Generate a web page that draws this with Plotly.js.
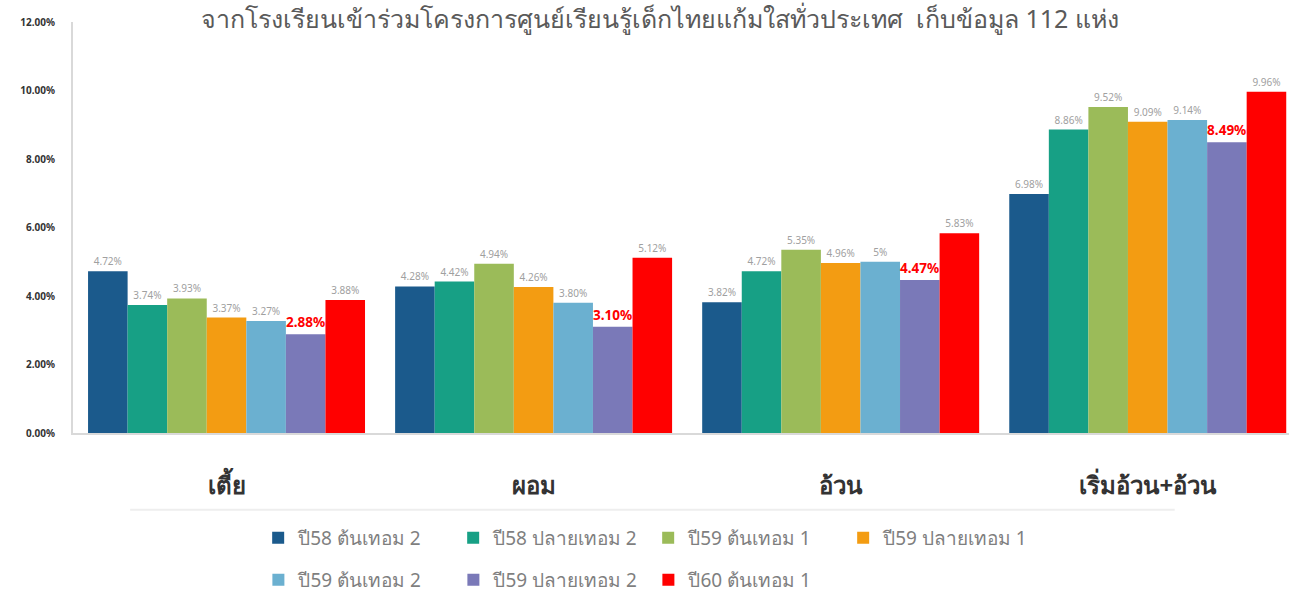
<!DOCTYPE html>
<html><head><meta charset="utf-8">
<script src="https://cdn.plot.ly/plotly-3.0.1.min.js"></script>
<style>html,body{margin:0;padding:0;background:#fff}#chart{width:1289px;height:594px}</style>
</head><body><div id="chart"></div>
<script>
const categories = ["เตี้ย", "ผอม", "อ้วน", "เริ่มอ้วน+อ้วน"];
const seriesNames = ["ปี58 ต้นเทอม 2", "ปี58 ปลายเทอม 2", "ปี59 ต้นเทอม 1", "ปี59 ปลายเทอม 1", "ปี59 ต้นเทอม 2", "ปี59 ปลายเทอม 2", "ปี60 ต้นเทอม 1"];
const s58t2 = [4.72, 4.28, 3.82, 6.98];
const s58p2 = [3.74, 4.42, 4.72, 8.86];
const s59t1 = [3.93, 4.94, 5.35, 9.52];
const s59p1 = [3.37, 4.26, 4.96, 9.09];
const s59t2 = [3.27, 3.80, 5.00, 9.14];
const s59p2 = [2.88, 3.10, 4.47, 8.49];
const s60t1 = [3.88, 5.12, 5.83, 9.96];
const labels58t2 = ["4.72%", "4.28%", "3.82%", "6.98%"];
const labels58p2 = ["3.74%", "4.42%", "4.72%", "8.86%"];
const labels59t1 = ["3.93%", "4.94%", "5.35%", "9.52%"];
const labels59p1 = ["3.37%", "4.26%", "4.96%", "9.09%"];
const labels59t2 = ["3.27%", "3.80%", "5%", "9.14%"];
const labels59p2 = ["2.88%", "3.10%", "4.47%", "8.49%"];
const labels60t1 = ["3.88%", "5.12%", "5.83%", "9.96%"];
const yTickVals = [0, 2, 4, 6, 8, 10, 12];
const yTickText = ["0.00%", "2.00%", "4.00%", "6.00%", "8.00%", "10.00%", "12.00%"];
const titleText = "จากโรงเรียนเข้าร่วมโครงการศูนย์เรียนรู้เด็กไทยแก้มใสทั่วประเทศ  เก็บข้อมูล 112 แห่ง";

const values = [s58t2, s58p2, s59t1, s59p1, s59t2, s59p2, s60t1];
const labels = [labels58t2, labels58p2, labels59t1, labels59p1, labels59t2, labels59p2, labels60t1];
const colors = ["#1b5a8c", "#17a085", "#9bbb59", "#f39c12", "#6bb0d0", "#7a79b8", "#ff0000"];
const FONT = "'Noto Sans', 'Liberation Sans', sans-serif";

const traces = values.map((v, i) => ({
  type: "bar",
  name: seriesNames[i],
  x: categories,
  y: v,
  text: labels[i],
  textposition: "outside",
  cliponaxis: false,
  textfont: i === 5 ? {color: "#ff0000", size: 14, family: FONT, weight: "bold"} : {color: "#a0a0a0", size: 10, family: FONT},
  marker: {color: colors[i]},
  legend: i < 4 ? "legend" : "legend2",
  hoverinfo: "x+y+name"
}));

const legendCommon = {
  orientation: "h",
  xanchor: "center", yanchor: "top",
  entrywidth: 150, entrywidthmode: "pixels",
  font: {size: 19, color: "#7f7f7f", family: FONT},
  traceorder: "normal",
  bgcolor: "rgba(0,0,0,0)"
};

const layout = {
  width: 1289, height: 594,
  paper_bgcolor: "#fff", plot_bgcolor: "#fff",
  margin: {l: 73, r: 0, t: 22, b: 161, autoexpand: false},
  font: {family: FONT, color: "#555"},
  title: {text: titleText, x: 0.512, xanchor: "center", y: 0.968, yanchor: "middle", yref: "container",
    font: {size: 25, color: "#5a5a5a", family: FONT}},
  barmode: "group",
  bargap: 0.098,
  bargroupgap: 0,
  xaxis: {
    type: "category",
    range: [-0.5, 3.46],
    showline: true, linecolor: "#d9d9d9", linewidth: 2,
    ticks: "", ticklabelstandoff: 30,
    tickfont: {size: 24, color: "#333", family: FONT, weight: "bold"},
    showgrid: false, zeroline: false, fixedrange: true
  },
  yaxis: {
    range: [0, 12],
    tickvals: yTickVals, ticktext: yTickText,
    showline: true, linecolor: "#d9d9d9", linewidth: 2,
    ticks: "", ticklabelstandoff: 14,
    tickfont: {size: 10, color: "#333", family: FONT, weight: "bold"},
    showgrid: false, zeroline: false, fixedrange: true
  },
  showlegend: true,
  legend: Object.assign({}, legendCommon, {x: 0.473, y: -0.209}),
  legend2: Object.assign({}, legendCommon, {x: 0.393, y: -0.311}),
  shapes: [{type: "line", xref: "paper", yref: "paper", x0: 0.047, x1: 0.906, y0: -0.187, y1: -0.187,
    line: {color: "#eeeeee", width: 2}}]
};

Plotly.newPlot("chart", traces, layout, {displayModeBar: false, staticPlot: true});
</script></body></html>
